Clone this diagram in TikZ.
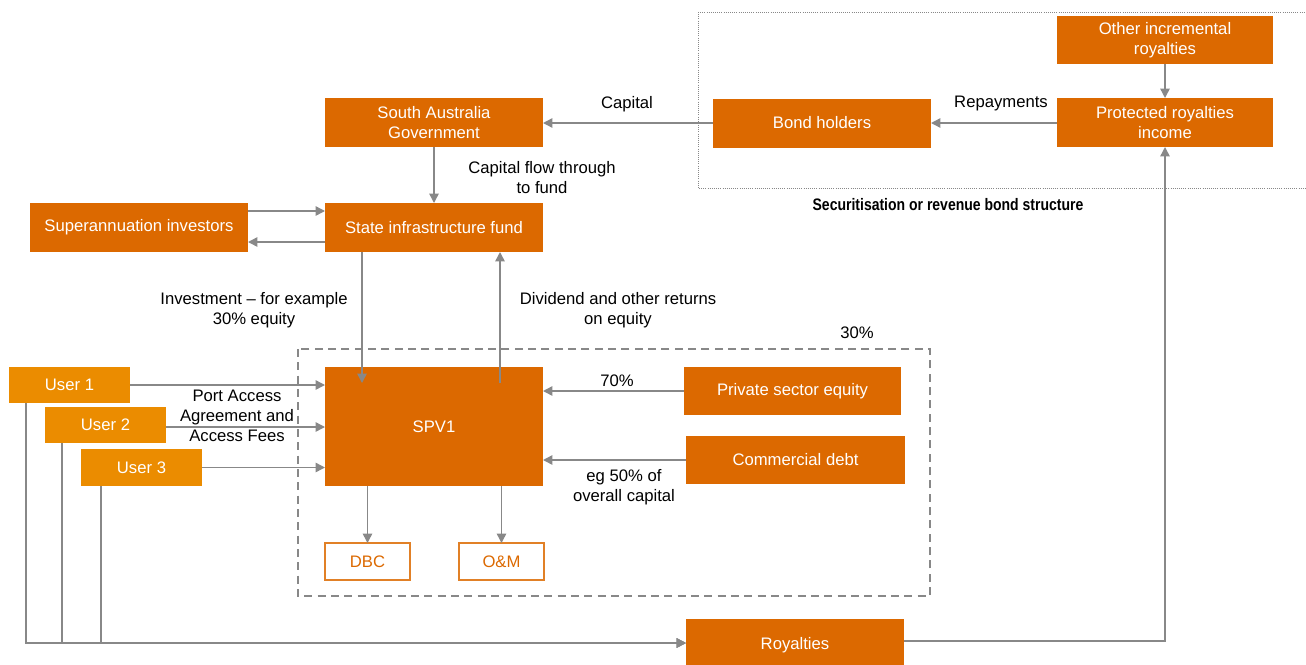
\documentclass[tikz,border=0pt]{standalone}
\usepackage{fontspec}
\setmainfont{Liberation Sans}
\newfontfamily\narrowbold[FakeStretch=0.84]{Liberation Sans Bold}
\usetikzlibrary{arrows.meta,calc}
\definecolor{pwcorange}{HTML}{DC6900}
\definecolor{pwcuser}{HTML}{EB8C00}
\definecolor{linegray}{HTML}{888888}
\tikzset{
  sz/.style 2 args={minimum width=#1*0.75pt, minimum height=#2*0.75pt},
  boxbase/.style={inner sep=0pt, outer sep=0pt, align=center, font=\fontsize{12.5}{15}\selectfont},
  obox/.style={boxbase, fill=pwcorange, draw=none, text=white},
  ubox/.style={boxbase, fill=pwcuser, draw=none, text=white},
  wbox/.style={boxbase, fill=white, draw=pwcorange!85!white, line width=1pt, text=pwcorange},
  lbl/.style={text=black, align=center, inner sep=0pt, font=\fontsize{12.5}{15}\selectfont},
  arr/.style={draw=linegray, line width=1.1pt, -{Triangle[length=7pt,width=7pt]}},
}
\begin{document}
\begin{tikzpicture}[x=0.75pt,y=-0.75pt]
\useasboundingbox (0,0) rectangle (1306,664);
% frames
\draw[linegray, line width=0.6pt, densely dotted] (698,12) -- (1306,12) (698,12) -- (698,188) -- (1306,188);
\draw[linegray, line width=1pt, dash pattern=on 6pt off 4pt] (298,349) rectangle (930,596);
% boxes
\node[obox, sz={216}{48}] (oir) at (1165,40) {Other incremental\\royalties};
\node[obox, sz={216}{49}] (pri) at (1165,122.5) {Protected royalties\\income};
\node[obox, sz={218}{49}] (bond) at (822,123) {Bond holders};
\node[obox, sz={218}{49}] (sag) at (434,122.5) {South Australia\\Government};
\node[obox, sz={218}{49}] (sif) at (434,227.5) {State infrastructure fund};
\node[obox, sz={218}{49}] (sup) at (139,227.5) {Superannuation investors};
\node[obox, sz={218}{119}] (spv) at (434,426.5) {SPV1};
\node[obox, sz={217}{48}] (pse) at (792.5,391) {Private sector equity};
\node[obox, sz={219}{48}] (cd) at (795.5,460) {Commercial debt};
\node[wbox, sz={85}{37}] (dbc) at (367.5,561.5) {DBC};
\node[wbox, sz={85}{37}] (om) at (501.5,561.5) {O\&M};
\node[ubox, sz={121}{36}] (u1) at (69.5,385) {User 1};
\node[ubox, sz={121}{36}] (u2) at (105.5,425) {User 2};
\node[ubox, sz={121}{37}] (u3) at (141.5,467.5) {User 3};
\node[obox, sz={218}{52}] (roy) at (795,645) {Royalties};
% helper coordinates
\coordinate (ya) at (0,211);
\coordinate (yb) at (0,242);
\coordinate (yu2) at (0,427);
\coordinate (xa) at (362,0);
\coordinate (xb) at (500,0);
\coordinate (xu1) at (26,0);
\coordinate (xu2) at (62,0);
\coordinate (xu3) at (101,0);
\coordinate (yr) at (0,643);
\coordinate (yr2) at (0,641);
% labels
\node[lbl] (lcap) at (627,104) {Capital};
\node[lbl] (lrep) at (1001,103) {Repayments};
\node[lbl, font=\narrowbold\fontsize{12.5}{15}\selectfont] (lsec) at (948,205) {Securitisation or revenue bond structure};
\node[lbl] (lcf) at (542,178) {Capital flow through\\to fund};
\node[lbl] (linv) at (254,310) {Investment -- for example\\30\% equity};
\node[lbl] (ldiv) at (618,310) {Dividend and other returns\\on equity};
\node[lbl] (l30) at (857,333) {30\%};
\node[lbl] (l70) at (617,381) {70\%};
\node[lbl] (leg) at (624,487) {eg 50\% of\\overall capital};
\node[lbl] (lpa) at (237,416) {Port Access\\Agreement and\\Access Fees};
% connectors
\draw[arr] (oir.south) -- (pri.north);
\draw[arr] (pri.west |- bond.east) -- (bond.east);
\draw[arr] (bond.west) -- (sag.east |- bond.west);
\draw[arr] (sag.south) -- (sif.north);
\draw[arr] (sup.east |- ya) -- (sif.west |- ya);
\draw[arr] (sif.west |- yb) -- (sup.east |- yb);
\draw[arr] (sif.south -| xa) -- ($(spv.north -| xa)+(0,16)$);
\draw[arr] ($(spv.north -| xb)+(0,16)$) -- (sif.south -| xb);
\draw[arr] (pse.west) -- (spv.east |- pse.west);
\draw[arr] (cd.west) -- (spv.east |- cd.west);
\draw[arr] (spv.south -| dbc.north) -- (dbc.north);
\draw[arr] (spv.south -| om.north) -- (om.north);
\draw[arr] (u1.east) -- (spv.west |- u1.east);
\draw[arr] (u2.east |- yu2) -- (spv.west |- yu2);
\draw[arr] (u3.east) -- (spv.west |- u3.east);
\draw[arr] (u1.south -| xu1) |- (roy.west |- yr);
\draw[arr] (u2.south -| xu2) |- (roy.west |- yr);
\draw[arr] (u3.south -| xu3) |- (roy.west |- yr);
\draw[arr] (roy.east |- yr2) -| (pri.south);
\end{tikzpicture}
\end{document}
